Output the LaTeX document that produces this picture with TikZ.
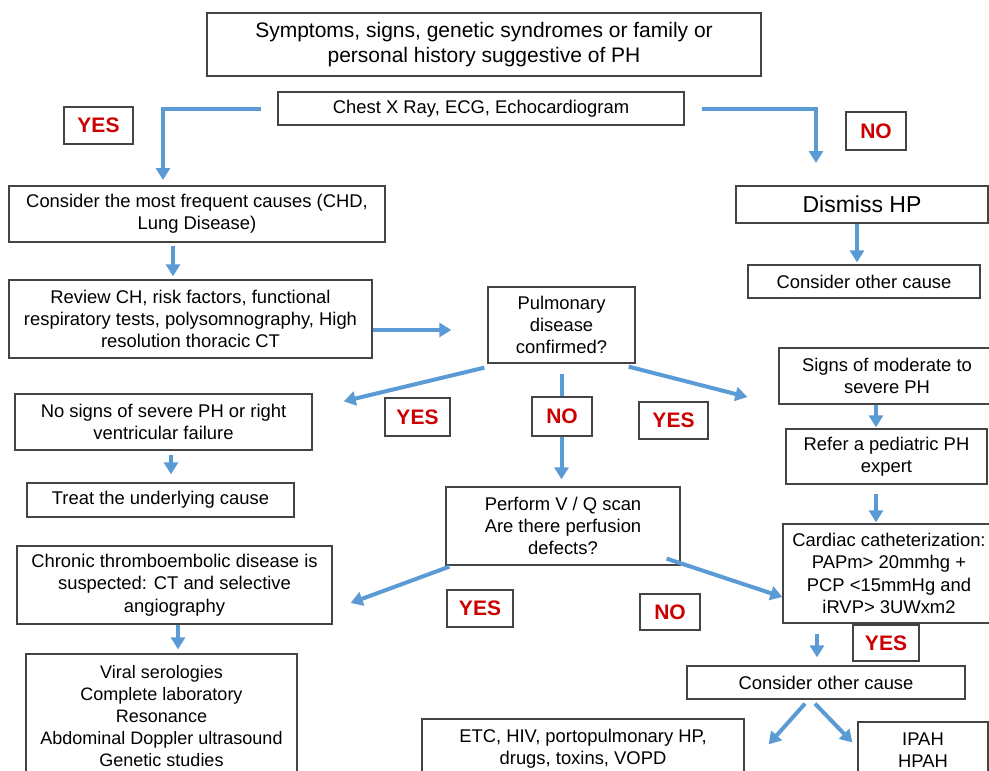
\documentclass[tikz,border=0pt]{standalone}
\usepackage{fontspec}
\setmainfont{Liberation Sans}
\usetikzlibrary{arrows.meta}

\begin{document}
\begin{tikzpicture}[x = 1pt, y = -1pt,
        box/.style = {draw = borderColor, line width = 1.3pt, fill = white, align = center, inner sep = 2pt,
                      font = \fontsize{18.4}{22.3}\selectfont},
        answer/.style = {draw = borderColor, line width = 1.3pt, fill = white, text = answerColor,
                         inner sep = 1pt, font = \fontsize{21}{24}\selectfont\bfseries},
        flow/.style = {draw = flowColor, line width = 4pt, -{Triangle[width = 14pt, length = 12pt]}}]
            % page is 989 x 771, one unit = one pixel of the original
            \definecolor{borderColor}{RGB}{68,68,68};
            \definecolor{answerColor}{RGB}{204,0,0};
            \definecolor{flowColor}{RGB}{91,155,213};

            \useasboundingbox (0,0) rectangle (989,771);
            \clip (0,0) rectangle (989,771);
            \fill [white] (0,0) rectangle (989,771);

            % first column
            \node [box, minimum width = 554pt, minimum height = 63pt, font = \fontsize{21}{25}\selectfont] (symptoms) at (484,44.5) {Symptoms, signs, genetic syndromes or family or\\ personal history suggestive of PH};
            \node [box, minimum width = 406pt, minimum height = 33pt] (chest) at (481,108.5) {Chest X Ray, ECG, Echocardiogram};
            \node [box, minimum width = 376pt, minimum height = 56pt] (frequent) at (197,214) {Consider the most frequent causes (CHD,\\ Lung Disease)};
            \node [box, minimum width = 363pt, minimum height = 78pt] (review) at (190.5,319) {Review CH, risk factors, functional\\ respiratory tests, polysomnography, High\\ resolution thoracic CT};
            \node [box, minimum width = 297pt, minimum height = 56pt] (nosigns) at (163.5,422) {No signs of severe PH or right\\ ventricular failure};
            \node [box, minimum width = 267pt, minimum height = 34pt] (treat) at (160.5,500) {Treat the underlying cause};
            \node [box, minimum width = 315pt, minimum height = 78pt] (chronic) at (174.5,585) {Chronic thromboembolic disease is\\ suspected: CT and selective\\ angiography};
            \node [box, minimum width = 271pt, minimum height = 124pt, font = \fontsize{18}{21.9}\selectfont] (viral) at (161.5,716) {Viral serologies\\ Complete laboratory\\ Resonance\\ Abdominal Doppler ultrasound\\ Genetic studies};

            % middle
            \node [box, minimum width = 147pt, minimum height = 76pt] (pulmonary) at (561.5,325) {Pulmonary\\ disease\\ confirmed?};
            \node [box, minimum width = 234pt, minimum height = 78pt] (perform) at (563,526) {Perform V / Q scan\\ Are there perfusion\\ defects?};
            \node [box, minimum width = 322pt, minimum height = 60pt] (etc) at (583,749) {ETC, HIV, portopulmonary HP,\\ drugs, toxins, VOPD};

            % right column
            \node [box, minimum width = 252pt, minimum height = 37pt, font = \fontsize{23}{26}\selectfont] (dismiss) at (862,204.5) {Dismiss HP};
            \node [box, minimum width = 232pt, minimum height = 33pt] (other) at (864,281.5) {Consider other cause};
            \node [box, minimum width = 216pt, minimum height = 56pt] (moderate) at (887,376) {Signs of moderate to\\ severe PH};
            \node [box, minimum width = 201pt, minimum height = 55pt] (refer) at (886.5,456.5) {Refer a pediatric PH\\ expert};
            \node [box, minimum width = 212pt, minimum height = 99pt] (cardiac) at (889,573.5) {Cardiac catheterization:\\ PAPm> 20mmhg +\\ PCP <15mmHg and\\ iRVP> 3UWxm2};
            \node [box, minimum width = 278pt, minimum height = 33pt] (otherBis) at (826,682.5) {Consider other cause};
            \node [box, minimum width = 130pt, minimum height = 56pt] (ipah) at (923,750) {IPAH\\ HPAH};

            % arrows
            \coordinate (yesDrop) at (163,186);
            \coordinate (noDrop) at (816,186);
            \draw [flow, shorten <= 16pt, shorten >= 6pt] (chest.west) -| (yesDrop);
            \draw [flow, shorten <= 17pt, shorten >= 23pt] (chest.east) -| (noDrop);
            \draw [flow, shorten <= 3pt, shorten >= 3pt] ([xshift = -24pt]frequent.south) -- ([xshift = -24pt]frequent.south |- review.north);
            \draw [flow, shorten >= 2pt] ([xshift = -5pt]dismiss.south) -- ([xshift = -5pt]dismiss.south |- other.north);
            \draw [flow, shorten >= 36pt] ([yshift = -11pt]review.east) -- ([yshift = -11pt]review.east -| pulmonary.west);
            \draw [flow] ([xshift = -3pt, yshift = -4pt]pulmonary.south west) -- ([xshift = 31pt, yshift = -8pt]nosigns.north east);
            \draw [flow, shorten <= 10pt, shorten >= 7pt] (pulmonary.south) -- (pulmonary.south |- perform.north);
            \draw [flow] ([xshift = -7pt, yshift = -3pt]pulmonary.south east) -- ([xshift = -31pt, yshift = -21pt]moderate.west);
            \draw [flow, shorten >= 1pt] ([xshift = -11pt]moderate.south) -- ([xshift = -11pt]moderate.south |- refer.north);
            \draw [flow, shorten <= 9pt, shorten >= 1pt] ([xshift = -10.5pt]refer.south) -- ([xshift = -10.5pt]refer.south |- cardiac.north);
            \draw [flow, shorten <= 4pt, shorten >= 8pt] ([xshift = 7.5pt]nosigns.south) -- ([xshift = 7.5pt]nosigns.south |- treat.north);
            \draw [flow] ([xshift = 4pt, yshift = -1pt]perform.south west) -- ([xshift = 18pt, yshift = -18pt]chronic.east);
            \draw [flow] ([xshift = -14pt, yshift = 7pt]perform.south east) -- ([yshift = -23.5pt]cardiac.west);
            \draw [flow, shorten >= 4pt] ([xshift = 3.5pt]chronic.south) -- ([xshift = 3.5pt]chronic.south |- viral.north);
            \draw [flow, shorten <= 10pt, shorten >= 8pt] ([xshift = -9pt]otherBis.north |- cardiac.south) -- ([xshift = -9pt]otherBis.north);
            \draw [flow] ([xshift = -21pt, yshift = -4pt]otherBis.south) -- ([xshift = 24pt, yshift = -26pt]etc.north east);
            \draw [flow] ([xshift = -11pt, yshift = -4pt]otherBis.south) -- ([xshift = -5pt, yshift = -21pt]ipah.north west);

            % yes / no labels
            \node [answer, minimum width = 69pt, minimum height = 37pt] (yesChest) at (98.5,125.5) {YES};
            \node [answer, minimum width = 60pt, minimum height = 38pt] (noChest) at (876,131) {NO};
            \node [answer, minimum width = 65pt, minimum height = 38pt] (yesLeft) at (417.5,417) {YES};
            \node [answer, minimum width = 60pt, minimum height = 39pt] (noPulmonary) at (562,416.5) {NO};
            \node [answer, minimum width = 69pt, minimum height = 37pt] (yesRight) at (673.5,420.5) {YES};
            \node [answer, minimum width = 66pt, minimum height = 37pt] (yesScan) at (480,608.5) {YES};
            \node [answer, minimum width = 60pt, minimum height = 36pt] (noScan) at (670,612) {NO};
            \node [answer, minimum width = 66pt, minimum height = 36pt] (yesCardiac) at (886,643) {YES};

        \end{tikzpicture}
\end{document}
